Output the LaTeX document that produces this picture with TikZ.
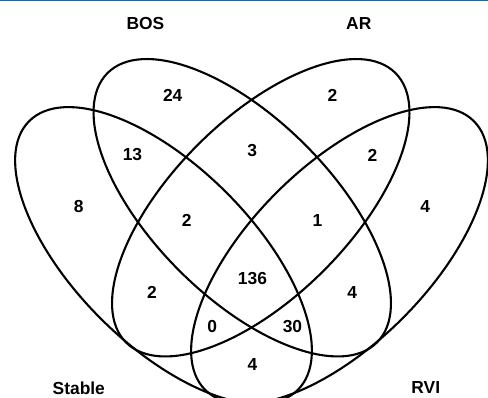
\documentclass[tikz,border=0pt]{standalone}
\usepackage{fontspec}
\setmainfont{Liberation Sans}
\definecolor{rulecol}{RGB}{0,112,192}
\begin{document}
\begin{tikzpicture}[x=1pt,y=1pt,
  setline/.style={line width=2.1pt,black},
  lbl/.style={inner sep=0pt,font=\fontsize{17.4}{20}\selectfont\bfseries},
  cnt/.style={inner sep=0pt,font=\fontsize{17.4}{20}\selectfont\bfseries}]
\useasboundingbox (0,0) rectangle (488,398);
\begin{scope}
\clip (0,0) rectangle (488,398);
% rule along the top edge
\draw[rulecol,line width=1.6pt] (0,397.4) -- (488,397.4);
% the four set ellipses
\draw[setline,rotate around={-45:(163.5,142.5)}] (163.5,142.5) ellipse [x radius=190pt,y radius=89pt];
\draw[setline,rotate around={-45:(242.25,190.25)}] (242.25,190.25) ellipse [x radius=190.5pt,y radius=89pt];
\draw[setline,rotate around={45:(260.75,190.25)}] (260.75,190.25) ellipse [x radius=190.5pt,y radius=89pt];
\draw[setline,rotate around={45:(339.5,142.5)}] (339.5,142.5) ellipse [x radius=190pt,y radius=89pt];
\end{scope}
% set names
\node[lbl] (nBOS) at (145.5,374) {BOS};
\node[lbl] (nAR) at (358.8,374) {AR};
\node[lbl] (nStable) at (78.8,10) {Stable};
\node[lbl] (nRVI) at (425.8,10) {RVI};
% region counts
\node[cnt] (cB) at (172.7,302.3) {24};
\node[cnt] (cA) at (332.5,302.3) {2};
\node[cnt] (cSB) at (132.5,243) {13};
\node[cnt] (cAR) at (372.5,243) {2};
\node[cnt] (cS) at (78.7,191) {8};
\node[cnt] (cR) at (425.3,191.3) {4};
\node[cnt] (cBA) at (252.3,247.2) {3};
\node[cnt] (cSBA) at (186.8,177.2) {2};
\node[cnt] (cBAR) at (317.5,177.2) {1};
\node[cnt] (cAll) at (252.5,119.7) {136};
\node[cnt] (cSA) at (152,106) {2};
\node[cnt] (cBR) at (352.3,105.5) {4};
\node[cnt] (cSAR) at (212.2,71.7) {0};
\node[cnt] (cSBR) at (292.5,71.7) {30};
\node[cnt] (cSR) at (252.5,33.5) {4};
\end{tikzpicture}
\end{document}
